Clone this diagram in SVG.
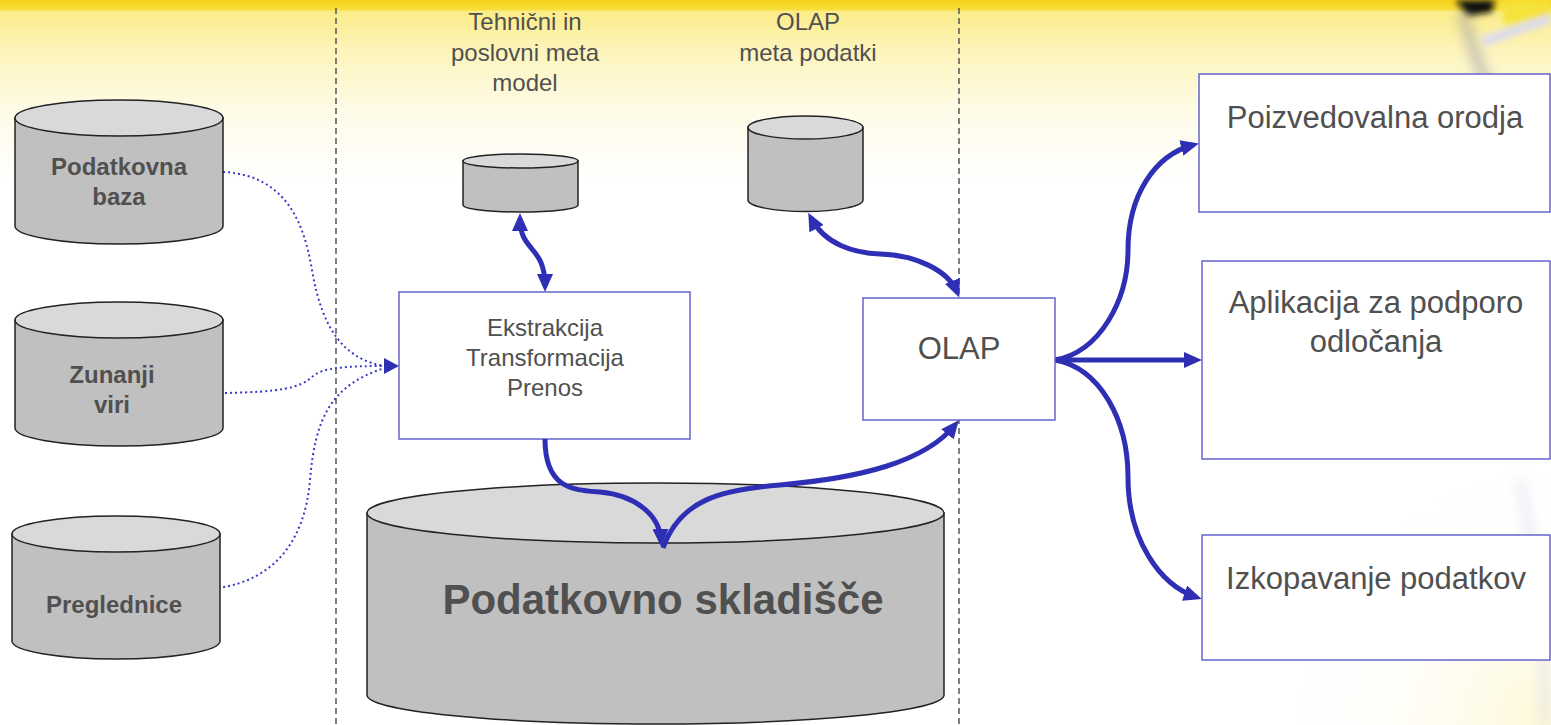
<svg xmlns="http://www.w3.org/2000/svg" width="1551" height="725" viewBox="0 0 1551 725">
  <defs>
    <linearGradient id="bg" x1="0" y1="0" x2="0" y2="725" gradientUnits="userSpaceOnUse">
      <stop offset="0" stop-color="#f6d21a"/>
      <stop offset="0.013" stop-color="#f9de3a"/>
      <stop offset="0.016" stop-color="#fbec88"/>
      <stop offset="0.07" stop-color="#fdf4bc"/>
      <stop offset="0.15" stop-color="#fefbe6"/>
      <stop offset="0.25" stop-color="#ffffff"/>
      <stop offset="1" stop-color="#ffffff"/>
    </linearGradient>
    <radialGradient id="corner" cx="1551" cy="725" r="260" gradientUnits="userSpaceOnUse">
      <stop offset="0" stop-color="#fdf7d0" stop-opacity="0.9"/>
      <stop offset="1" stop-color="#ffffff" stop-opacity="0"/>
    </radialGradient>
    <filter id="blur6" x="-50%" y="-50%" width="200%" height="200%">
      <feGaussianBlur stdDeviation="6"/>
    </filter>
    <filter id="blur3" x="-50%" y="-50%" width="200%" height="200%">
      <feGaussianBlur stdDeviation="3"/>
    </filter>
    <marker id="arr" viewBox="0 0 18 16" refX="12" refY="8" markerWidth="18" markerHeight="16" markerUnits="userSpaceOnUse" orient="auto-start-reverse">
      <path d="M0,0 L18,8 L0,16 Z" fill="#2f2fb5"/>
    </marker>
    <marker id="arrDot" viewBox="0 0 15 16" refX="0" refY="8" markerWidth="15" markerHeight="16" markerUnits="userSpaceOnUse" orient="auto">
      <path d="M0,0 L15,8 L0,16 Z" fill="#2f2fb5"/>
    </marker>
  </defs>
  <style>
    .cylBody { fill: #c0c0c0; stroke: #222222; stroke-width: 1.5; }
    .cylTop { fill: #d9d9d9; stroke: #222222; stroke-width: 1.5; }
    .box { fill: #ffffff; stroke: #6464cc; stroke-width: 1.5; }
    .sep { stroke: #555555; stroke-width: 1.5; stroke-dasharray: 6 4; fill: none; }
    .flow { fill: none; stroke: #2f2fb5; stroke-width: 5; }
    .dot { fill: none; stroke: #3a3ac8; stroke-width: 2; stroke-dasharray: 2 3; }
    .lbl { font-family: "Liberation Sans", Arial, sans-serif; fill: #505050; text-anchor: middle; }
    .lblB { font-family: "Liberation Sans", Arial, sans-serif; fill: #505050; text-anchor: middle; font-weight: bold; }
  </style>

  <!-- background -->
  <rect x="0" y="0" width="1551" height="725" fill="url(#bg)"/>
  <rect x="1200" y="420" width="351" height="305" fill="url(#corner)"/>
  <g id="decoration">
    <path d="M1500,0 L1551,0 L1551,14 L1505,26 Z" fill="#f5e23a" filter="url(#blur3)"/>
    <path d="M1455,0 L1495,0 L1492,12 L1468,16 Z" fill="#111111" filter="url(#blur3)"/>
    <path d="M1462,12 C1470,40 1480,70 1492,95" stroke="#9a9aa8" stroke-width="12" fill="none" opacity="0.5" filter="url(#blur6)"/>
    <path d="M1482,42 L1551,18" stroke="#d8d8f6" stroke-width="10" fill="none" opacity="0.9" filter="url(#blur3)"/>
    <path d="M1520,480 C1535,560 1545,640 1545,725" stroke="#dcdcee" stroke-width="10" fill="none" opacity="0.5" filter="url(#blur6)"/>
  </g>

  <!-- separators -->
  <g id="separators">
    <line class="sep" x1="336" y1="8" x2="336" y2="725"/>
    <line class="sep" x1="959" y1="8" x2="959" y2="725"/>
  </g>

  <!-- top labels -->
  <g id="label-tech">
    <text class="lbl" font-size="24" x="525" y="30">Tehnični in</text>
    <text class="lbl" font-size="24" x="525" y="61">poslovni meta</text>
    <text class="lbl" font-size="24" x="525" y="91">model</text>
  </g>
  <g id="label-olapmeta">
    <text class="lbl" font-size="24" x="808" y="30">OLAP</text>
    <text class="lbl" font-size="24" x="808" y="61">meta podatki</text>
  </g>

  <!-- connectors -->
  <g id="connectors">
    <path class="dot" d="M223,172 C290,175 305,230 312,270 C322,330 345,360 385,366"/>
    <path class="dot" d="M218,588 C275,580 305,540 310,480 C315,420 330,385 385,368"/>
    <path class="dot" d="M225,393 C280,392 300,388 312,377 C322,367 350,366 384,366" marker-end="url(#arrDot)"/>
    <path class="flow" d="M520,219 C520,252 545,245 545,286" marker-start="url(#arr)" marker-end="url(#arr)"/>
    <path class="flow" d="M811,218 C825,245 855,253 880,254 C915,255 948,270 957,292" marker-start="url(#arr)" marker-end="url(#arr)"/>
    <path class="flow" d="M1055,360 L1196,360" marker-end="url(#arr)"/>
    <path class="flow" d="M1055,360 C1100,352 1128,300 1128,250 C1128,195 1155,155 1193,145" marker-end="url(#arr)"/>
    <path class="flow" d="M1055,360 C1100,368 1128,420 1128,477 C1128,540 1160,585 1196,597" marker-end="url(#arr)"/>
  </g>

  <!-- source cylinders -->
  <g id="db-podatkovna-baza">
    <path class="cylBody" d="M15,118 V226 A104,18 0 0 0 223,226 V118 Z"/>
    <ellipse class="cylTop" cx="119" cy="118" rx="104" ry="18"/>
    <text class="lblB" font-size="24" x="119" y="175">Podatkovna</text>
    <text class="lblB" font-size="24" x="119" y="205">baza</text>
  </g>
  <g id="db-zunanji-viri">
    <path class="cylBody" d="M15,320 V428 A104,18 0 0 0 223,428 V320 Z"/>
    <ellipse class="cylTop" cx="119" cy="320" rx="104" ry="18"/>
    <text class="lblB" font-size="24" x="112" y="383">Zunanji</text>
    <text class="lblB" font-size="24" x="112" y="413">viri</text>
  </g>
  <g id="db-preglednice">
    <path class="cylBody" d="M12,534 V641 A104,18 0 0 0 220,641 V534 Z"/>
    <ellipse class="cylTop" cx="116" cy="534" rx="104" ry="18"/>
    <text class="lblB" font-size="24" x="114" y="613">Preglednice</text>
  </g>

  <!-- meta cylinders -->
  <g id="db-tech-meta">
    <path class="cylBody" d="M463,161 V205 A57.5,7 0 0 0 578,205 V161 Z"/>
    <ellipse class="cylTop" cx="520.5" cy="161" rx="57.5" ry="7"/>
  </g>
  <g id="db-olap-meta">
    <path class="cylBody" d="M748,127.5 V200 A57.5,11.5 0 0 0 863,200 V127.5 Z"/>
    <ellipse class="cylTop" cx="805.5" cy="127.5" rx="57.5" ry="11.5"/>
  </g>

  <!-- ETL box -->
  <g id="etl">
    <rect class="box" x="399" y="292" width="291" height="147"/>
    <text class="lbl" font-size="24" x="545" y="336">Ekstrakcija</text>
    <text class="lbl" font-size="24" x="545" y="366">Transformacija</text>
    <text class="lbl" font-size="24" x="545" y="396">Prenos</text>
  </g>

  <!-- OLAP box -->
  <g id="olap">
    <rect class="box" x="863" y="298" width="192" height="122"/>
    <text class="lbl" font-size="31" x="959" y="359">OLAP</text>
  </g>

  <!-- warehouse -->
  <g id="warehouse">
    <path class="cylBody" d="M367,513 V695 A288.5,29 0 0 0 944,695 V513 Z"/>
    <ellipse class="cylTop" cx="655.5" cy="513" rx="288.5" ry="30"/>
    <text class="lblB" font-size="42" x="663" y="614">Podatkovno skladišče</text>
  </g>

  <!-- arrows crossing over the warehouse top -->
  <g id="connectors-warehouse">
    <path class="flow" d="M545,439 C545,490 575,490 600,492 C635,495 660,515 661,541" marker-end="url(#arr)"/>
    <path class="flow" d="M663,548 C680,500 720,490 780,485 C860,478 925,462 955,425" marker-end="url(#arr)"/>
  </g>

  <!-- right boxes -->
  <g id="query-tools">
    <rect class="box" x="1199" y="74" width="351" height="138"/>
    <text class="lbl" font-size="31" x="1375" y="128">Poizvedovalna orodja</text>
  </g>
  <g id="decision-support">
    <rect class="box" x="1202" y="261" width="348" height="198"/>
    <text class="lbl" font-size="31" x="1376" y="313">Aplikacija za podporo</text>
    <text class="lbl" font-size="31" x="1376" y="352">odločanja</text>
  </g>
  <g id="data-mining">
    <rect class="box" x="1202" y="535" width="348" height="125"/>
    <text class="lbl" font-size="31" x="1376" y="589">Izkopavanje podatkov</text>
  </g>
</svg>
